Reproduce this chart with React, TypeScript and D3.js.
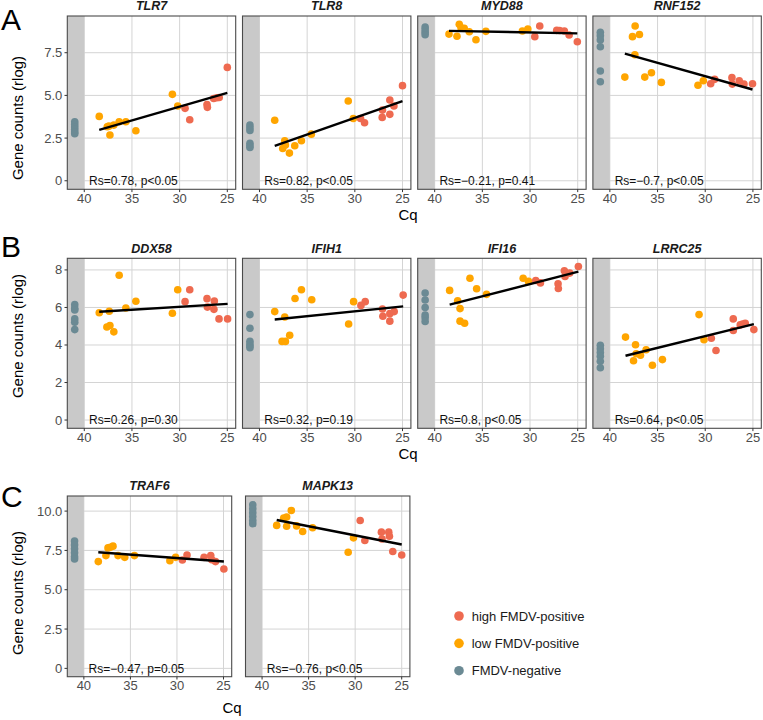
import React from "react";
import * as d3 from "d3";

// [Cq, rlog gene count, group]  h = high FMDV-positive, l = low FMDV-positive, n = FMDV-negative
type Pt = [number, number, "h" | "l" | "n"];

// negative samples have no Cq; they sit in the grey "not detected" strip
const NEG_CQ = 41;
const neg = (vals: number[]): Pt[] => vals.map((v) => [NEG_CQ, v, "n"] as Pt);

const TLR7: Pt[] = [
  [38.43, 3.77, "l"], [37.59, 3.16, "l"], [37.42, 3.2, "l"], [37.31, 2.68, "l"], [36.9, 3.26, "l"],
  [36.34, 3.46, "l"], [35.64, 3.46, "l"], [34.59, 2.93, "l"], [30.76, 5.06, "l"], [30.2, 4.38, "l"],
  [29.43, 4.24, "h"], [28.94, 3.57, "h"], [27.13, 4.47, "h"], [27.09, 4.3, "h"], [26.43, 4.82, "h"],
  [26.1, 4.86, "h"], [25.85, 4.88, "h"], [25.0, 6.64, "h"],
  ...neg([3.45, 3.3, 3.15, 3.0, 2.85, 2.75]),
];

const TLR8: Pt[] = [
  [38.4, 3.54, "l"], [37.35, 2.34, "l"], [37.28, 2.09, "l"], [37.56, 1.89, "l"], [36.86, 1.62, "l"],
  [36.3, 2.05, "l"], [35.6, 2.34, "l"], [34.56, 2.73, "l"], [30.69, 4.67, "l"], [30.16, 3.65, "l"],
  [29.4, 3.65, "h"], [28.98, 3.4, "h"], [27.13, 3.71, "h"], [27.1, 4.14, "h"], [26.33, 4.73, "h"],
  [26.33, 3.89, "h"], [25.9, 4.38, "h"], [25.0, 5.57, "h"],
  ...neg([3.26, 3.1, 2.95, 2.2, 2.05, 1.95]),
];

const MYD88: Pt[] = [
  [38.5, 8.59, "l"], [37.66, 8.46, "l"], [37.42, 9.16, "l"], [37.24, 8.96, "l"], [36.9, 8.93, "l"],
  [36.37, 8.73, "l"], [35.67, 8.26, "l"], [34.63, 8.75, "l"], [30.8, 8.77, "l"], [30.23, 8.89, "l"],
  [29.5, 8.44, "h"], [28.98, 9.06, "h"], [27.2, 8.81, "h"], [26.9, 8.8, "h"], [26.4, 8.77, "h"],
  [25.9, 8.54, "h"], [25.04, 8.14, "h"],
  ...neg([9.0, 8.85, 8.7, 8.55]),
];

const RNF152: Pt[] = [
  [38.43, 6.07, "l"], [37.63, 8.44, "l"], [37.35, 9.06, "l"], [36.9, 8.57, "l"], [37.38, 7.38, "l"],
  [36.34, 6.07, "l"], [35.64, 6.33, "l"], [34.6, 5.76, "l"], [30.76, 5.59, "l"], [30.2, 5.86, "l"],
  [29.43, 5.68, "h"], [29.01, 5.94, "h"], [27.2, 6.04, "h"], [27.16, 5.66, "h"], [26.43, 5.86, "h"],
  [25.94, 5.66, "h"], [25.04, 5.68, "h"],
  ...neg([8.7, 8.5, 8.25, 7.85, 6.43, 5.8]),
];

const DDX58: Pt[] = [
  [38.43, 5.72, "l"], [37.38, 5.8, "l"], [37.63, 4.96, "l"], [37.31, 5.04, "l"], [36.9, 4.7, "l"],
  [36.34, 7.72, "l"], [35.64, 5.97, "l"], [34.59, 6.33, "l"], [30.76, 5.69, "l"], [30.2, 6.94, "l"],
  [29.43, 6.31, "h"], [28.94, 6.94, "h"], [27.13, 6.47, "h"], [27.09, 6.02, "h"], [26.36, 6.34, "h"],
  [26.4, 5.9, "h"], [25.87, 5.39, "h"], [24.97, 5.39, "h"],
  ...neg([6.15, 5.95, 5.87, 5.39, 5.21, 4.82]),
];

const IFIH1: Pt[] = [
  [38.4, 5.78, "l"], [37.35, 5.49, "l"], [37.63, 4.19, "l"], [37.28, 4.19, "l"], [36.83, 4.52, "l"],
  [36.27, 6.48, "l"], [35.6, 6.94, "l"], [34.52, 6.41, "l"], [30.65, 5.12, "l"], [30.13, 6.31, "l"],
  [29.36, 6.11, "h"], [28.91, 6.31, "h"], [27.1, 5.92, "h"], [27.06, 5.53, "h"], [26.33, 5.67, "h"],
  [26.33, 5.27, "h"], [25.87, 5.78, "h"], [24.93, 6.66, "h"],
  ...neg([5.62, 4.89, 4.2, 4.05, 3.95, 3.85]),
];

const IFI16: Pt[] = [
  [38.43, 6.91, "l"], [37.59, 6.36, "l"], [37.34, 5.94, "l"], [37.34, 5.27, "l"], [36.86, 5.16, "l"],
  [36.3, 7.56, "l"], [35.6, 7.0, "l"], [34.56, 6.7, "l"], [30.72, 7.56, "l"], [30.16, 7.39, "l"],
  [29.4, 7.44, "h"], [28.91, 7.31, "h"], [27.06, 7.26, "h"], [27.03, 7.01, "h"], [26.4, 7.95, "h"],
  [26.33, 7.65, "h"], [25.84, 7.83, "h"], [24.93, 8.18, "h"],
  ...neg([6.77, 6.4, 6.0, 5.6, 5.45, 5.25]),
];

const LRRC25: Pt[] = [
  [38.36, 4.42, "l"], [37.31, 4.01, "l"], [37.24, 3.53, "l"], [37.52, 3.16, "l"], [36.79, 3.45, "l"],
  [36.2, 3.75, "l"], [35.54, 2.92, "l"], [34.49, 3.22, "l"], [30.65, 5.62, "l"], [30.13, 4.28, "l"],
  [29.36, 4.36, "h"], [28.87, 3.71, "h"], [27.06, 5.39, "h"], [27.06, 4.77, "h"], [26.33, 5.07, "h"],
  [26.08, 5.12, "h"], [25.8, 5.16, "h"], [24.9, 4.82, "h"],
  ...neg([3.98, 3.8, 3.6, 3.4, 3.13, 2.79]),
];

const TRAF6: Pt[] = [
  [38.45, 6.79, "l"], [37.63, 7.17, "l"], [37.41, 7.66, "l"], [37.16, 7.7, "l"], [36.87, 7.77, "l"],
  [36.33, 7.17, "l"], [35.61, 7.06, "l"], [34.57, 7.17, "l"], [30.76, 6.85, "l"], [30.14, 7.06, "l"],
  [29.42, 6.89, "h"], [28.92, 7.21, "h"], [27.09, 7.06, "h"], [26.37, 7.17, "h"], [26.26, 6.91, "h"],
  [25.86, 6.79, "h"], [24.96, 6.32, "h"],
  ...neg([8.1, 7.85, 7.6, 7.35, 7.1, 6.95]),
];

const MAPK13: Pt[] = [
  [38.43, 9.09, "l"], [37.68, 9.55, "l"], [37.36, 9.62, "l"], [37.36, 9.04, "l"], [36.86, 10.04, "l"],
  [36.29, 9.06, "l"], [35.64, 8.7, "l"], [34.57, 8.94, "l"], [30.75, 7.38, "l"], [30.18, 8.3, "l"],
  [29.46, 9.4, "h"], [28.96, 8.13, "h"], [27.18, 8.66, "h"], [27.11, 8.23, "h"], [26.39, 8.66, "h"],
  [26.32, 8.4, "h"], [25.96, 7.43, "h"], [25.0, 7.21, "h"],
  ...neg([10.4, 10.15, 9.9, 9.65, 9.4, 9.2]),
];

const genes = ["TLR7", "TLR8", "MYD88", "RNF152", "DDX58", "IFIH1", "IFI16", "LRRC25", "TRAF6", "MAPK13"];
const geneData = [TLR7, TLR8, MYD88, RNF152, DDX58, IFIH1, IFI16, LRRC25, TRAF6, MAPK13];
const stats = [
  "Rs=0.78, p<0.05", "Rs=0.82, p<0.05", "Rs=\u22120.21, p=0.41", "Rs=\u22120.7, p<0.05",
  "Rs=0.26, p=0.30", "Rs=0.32, p=0.19", "Rs=0.8, p<0.05", "Rs=0.64, p<0.05",
  "Rs=\u22120.47, p=0.05", "Rs=\u22120.76, p<0.05",
];
const geneRow = [0, 0, 0, 0, 1, 1, 1, 1, 2, 2];

const xTicks = [40, 35, 30, 25];
const groupKeys = ["h", "l", "n"];
const groupLabels = ["high FMDV-positive", "low FMDV-positive", "FMDV-negative"];
const groupColors = ["#EE6A50", "#FFA500", "#6B8A94"];

const color = d3.scaleOrdinal<string, string>().domain(groupKeys).range(groupColors);

const FONT = "'Liberation Sans', Arial, Helvetica, sans-serif";
const CQ_DOMAIN: [number, number] = [41.78, 24.12];

const rows = [
  { letter: "A", letterY: 30, top: 16, bottom: 189.3, yDomain: [-0.5, 9.65], yTicks: [0, 2.5, 5, 7.5], fmt: (v: number) => (v === 0 ? "0" : v.toFixed(1)), lefts: [67.3, 242.5, 417.7, 592.9], width: 168.4, titleY: 118, cqX: 408, cqY: 220, tickY: 202.5 },
  { letter: "B", letterY: 256.5, top: 258.3, bottom: 428.3, yDomain: [-0.44, 8.62], yTicks: [0, 2, 4, 6, 8], fmt: (v: number) => String(v), lefts: [67.3, 242.5, 417.7, 592.9], width: 168.4, titleY: 336, cqX: 408, cqY: 459, tickY: 441.5 },
  { letter: "C", letterY: 507, top: 496, bottom: 676.7, yDomain: [-0.53, 10.96], yTicks: [0, 2.5, 5, 7.5, 10], fmt: (v: number) => (v === 0 ? "0" : v.toFixed(1)), lefts: [67.3, 245.5], width: 164.4, titleY: 593, cqX: 232, cqY: 712.5, tickY: 690 },
];

// least-squares line through the FMDV-positive samples, spanning their Cq range
function fit(pts: Pt[]) {
  const pos = pts.filter((d) => d[2] !== "n");
  const mx = d3.mean(pos, (d) => d[0])!;
  const my = d3.mean(pos, (d) => d[1])!;
  const sxy = d3.sum(pos, (d) => (d[0] - mx) * (d[1] - my));
  const sxx = d3.sum(pos, (d) => (d[0] - mx) ** 2);
  const b = sxy / sxx;
  const a = my - b * mx;
  const [lo, hi] = d3.extent(pos, (d) => d[0]) as [number, number];
  return [lo, hi].map((c) => [c, a + b * c] as [number, number]);
}

function Panel({ idx, col }: { idx: number; col: number }) {
  const row = rows[geneRow[idx]];
  const left = row.lefts[col];
  const x = d3.scaleLinear().domain(CQ_DOMAIN).range([left, left + row.width]);
  const y = d3.scaleLinear().domain(row.yDomain).range([row.bottom, row.top]);
  const data = geneData[idx];
  const line = d3.line<[number, number]>().x((d) => x(d[0])).y((d) => y(d[1]));
  const first = col === 0;

  return (
    <g>
      <rect x={left} y={row.top} width={row.width} height={row.bottom - row.top} fill="#fff" />
      {row.yTicks.map((t) => (
        <line key={"gy" + t} x1={left} x2={left + row.width} y1={y(t)} y2={y(t)} stroke="#d4d4d4" strokeWidth={1} />
      ))}
      {xTicks.map((t) => (
        <line key={"gx" + t} x1={x(t)} x2={x(t)} y1={row.top} y2={row.bottom} stroke="#d4d4d4" strokeWidth={1} />
      ))}
      <rect x={x(CQ_DOMAIN[0])} y={row.top} width={x(40) - x(CQ_DOMAIN[0])} height={row.bottom - row.top} fill="#c9c9c9" />
      {data.map((d, i) => (
        <circle key={i} cx={x(d[0])} cy={y(d[1])} r={3.8} fill={color(d[2])} />
      ))}
      <path d={line(fit(data)) ?? ""} stroke="#000" strokeWidth={2.4} fill="none" />
      <text x={x(39.5)} y={y(0) + 4.3} fontSize={12} fill="#111" fontFamily={FONT}>
        {stats[idx]}
      </text>
      <rect x={left} y={row.top} width={row.width} height={row.bottom - row.top} fill="none" stroke="#4a4a4a" strokeWidth={1.1} />
      <text x={left + row.width / 2} y={row.top - 5.8} textAnchor="middle" fontSize={12.5} fontWeight="bold" fontStyle="italic" fill="#1a1a1a" fontFamily={FONT}>
        {genes[idx]}
      </text>
      {xTicks.map((t) => (
        <g key={"tx" + t}>
          <line x1={x(t)} x2={x(t)} y1={row.bottom} y2={row.bottom + 2.8} stroke="#333" />
          <text x={x(t)} y={row.tickY} textAnchor="middle" fontSize={13} fill="#4d4d4d" fontFamily={FONT}>
            {t}
          </text>
        </g>
      ))}
      {first &&
        row.yTicks.map((t) => (
          <g key={"ty" + t}>
            <line x1={left - 2.8} x2={left} y1={y(t)} y2={y(t)} stroke="#333" />
            <text x={left - 5} y={y(t) + 4.5} textAnchor="end" fontSize={13} fill="#4d4d4d" fontFamily={FONT}>
              {row.fmt(t)}
            </text>
          </g>
        ))}
    </g>
  );
}

export default function App() {
  const colOf = [0, 1, 2, 3, 0, 1, 2, 3, 0, 1];
  return (
    <div style={{ position: "absolute", left: 0, top: 0 }}>
      <svg width={763} height={720} style={{ display: "block", background: "#fff" }}>
        {rows.map((r) => (
          <g key={r.letter}>
            <text x={1} y={r.letterY} fontSize={30} fill="#000" fontFamily={FONT}>
              {r.letter}
            </text>
            <text transform={`translate(22.5,${r.titleY}) rotate(-90)`} textAnchor="middle" fontSize={15} fill="#000" fontFamily={FONT}>
              Gene counts (rlog)
            </text>
            <text x={r.cqX} y={r.cqY} textAnchor="middle" fontSize={15} fill="#000" fontFamily={FONT}>
              Cq
            </text>
          </g>
        ))}
        {genes.map((g, i) => (
          <Panel key={g} idx={i} col={colOf[i]} />
        ))}
        {groupLabels.map((lab, i) => (
          <g key={lab}>
            <circle cx={459} cy={616 + i * 27.35} r={4.8} fill={groupColors[i]} />
            <text x={471.7} y={616 + i * 27.35 + 4.6} fontSize={13} fill="#1a1a1a" fontFamily={FONT}>
              {lab}
            </text>
          </g>
        ))}
      </svg>
    </div>
  );
}
